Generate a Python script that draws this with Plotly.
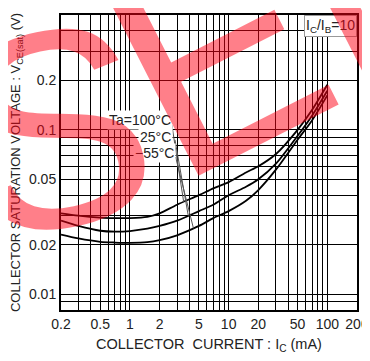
import numpy as np
import plotly.graph_objects as go

# ---------------- data ----------------
ic_ma = [0.2, 0.3, 0.5, 0.7, 1, 1.5, 2, 3, 5, 7, 10, 15, 20, 30, 50, 70, 100]
vce_100 = [0.031, 0.030, 0.0292, 0.029, 0.029, 0.0295, 0.031, 0.035, 0.040, 0.044, 0.048,
           0.055, 0.060, 0.071, 0.100, 0.132, 0.188]
vce_25 = [0.028, 0.026, 0.0243, 0.024, 0.0242, 0.025, 0.026, 0.028, 0.032, 0.035, 0.040,
          0.045, 0.050, 0.062, 0.092, 0.122, 0.173]
vce_m55 = [0.023, 0.0218, 0.0208, 0.0206, 0.0205, 0.0207, 0.0213, 0.0228, 0.026, 0.029, 0.032,
           0.037, 0.043, 0.057, 0.087, 0.114, 0.162]
series_names = ["Ta=100°C", "25°C", "−55°C"]

x_tick_vals = [0.2, 0.5, 1, 2, 5, 10, 20, 50, 100, 200]
x_tick_text = ["0.2", "0.5", "1", "2", "5", "10", "20", "50", "100", "200"]
x_minor_vals = [0.3, 0.4, 0.6, 0.7, 0.8, 0.9, 3, 4, 6, 7, 8, 9, 30, 40, 60, 70, 80, 90]
y_tick_vals = [0.5, 0.2, 0.1, 0.05, 0.02, 0.01]
y_tick_text = ["0.5", "0.2", "0.1", "0.05", "0.02", "0.01"]
y_minor_vals = [0.4, 0.3, 0.09, 0.08, 0.07, 0.06, 0.04, 0.03, 0.009]
x_range = [0.2, 200]
y_range = [0.008, 0.5]

FONT = "Liberation Sans, Arial, sans-serif"
TXT = "#222"

fig = go.Figure()
curves = [vce_100, vce_25, vce_m55]
for name, ys in zip(series_names, curves):
    fig.add_trace(go.Scatter(x=ic_ma, y=ys, mode="lines", name=name,
                             line=dict(color="black", width=1.8, shape="spline", smoothing=0.8),
                             showlegend=False, hoverinfo="skip"))

# leader lines from labels to curves
label_pos = [(2.72, 0.1145), (2.72, 0.090), (2.95, 0.072)]
leader_start = [(2.66, 0.107), (2.86, 0.0869), (2.9, 0.0683)]
leader_ic = [3.5, 3.9, 4.4]
for (sx, sy), lic, ys in zip(leader_start, leader_ic, curves):
    ey = 10 ** np.interp(np.log10(lic), np.log10(ic_ma), np.log10(ys))
    fig.add_trace(go.Scatter(x=[sx, lic], y=[sy, ey], mode="lines",
                             line=dict(color="#555", width=1), showlegend=False, hoverinfo="skip"))

for name, (lx, ly) in zip(series_names, label_pos):
    fig.add_annotation(x=np.log10(lx), y=np.log10(ly), xref="x", yref="y", text=name,
                       showarrow=False, xanchor="right", yanchor="middle",
                       font=dict(family=FONT, size=14, color=TXT), bgcolor="white", borderpad=1)

fig.add_annotation(x=1, y=1, xref="paper", yref="paper", xanchor="right", yanchor="top",
                   text="I<sub>C</sub>/I<sub>B</sub>=10", showarrow=False,
                   font=dict(family=FONT, size=14, color=TXT), bgcolor="white",
                   bordercolor="#999", borderwidth=1, borderpad=1)

# watermark (semi-transparent red letters on top)
WM = "rgba(255,0,20,0.5)"
fig.add_annotation(x=-0.020, y=0.614, xref="paper", yref="paper", text="S", showarrow=False,
                   xanchor="center", yanchor="middle", textangle=-12,
                   font=dict(family="Liberation Sans, Arial", size=280, color=WM))
fig.add_annotation(x=0.772, y=0.998, xref="paper", yref="paper", text="EL", showarrow=False,
                   xanchor="center", yanchor="middle", textangle=-27,
                   font=dict(family="Liberation Sans, Arial", size=290, color=WM))

axis_common = dict(type="log", showline=True, linewidth=2, linecolor="black", mirror=True,
                   showgrid=True, gridcolor="black", gridwidth=1.3, ticks="", zeroline=False,
                   tickfont=dict(family=FONT, size=14, color=TXT))

fig.update_xaxes(**axis_common, range=[np.log10(x_range[0]), np.log10(x_range[1])],
                 tickmode="array", tickvals=x_tick_vals, ticktext=x_tick_text,
                 minor=dict(tickmode="array", tickvals=x_minor_vals, showgrid=True,
                            gridcolor="black", gridwidth=1.3, ticks=""),
                 title=dict(text="COLLECTOR\u00a0 CURRENT : I<sub>C</sub> (mA)", standoff=8,
                            font=dict(family=FONT, size=14.5, color=TXT)))
fig.update_yaxes(**axis_common, range=[np.log10(y_range[0]), np.log10(y_range[1])],
                 tickmode="array", tickvals=y_tick_vals, ticktext=y_tick_text,
                 minor=dict(tickmode="array", tickvals=y_minor_vals, showgrid=True,
                            gridcolor="black", gridwidth=1.3, ticks=""),
                 title=dict(text="COLLECTOR SATURATION VOLTAGE : V<sub>CE(sat)</sub> (V)", standoff=8,
                            font=dict(family=FONT, size=13, color=TXT)))

# the page adds an 8px body margin, so the figure is drawn 8px smaller with shifted margins
fig.update_layout(width=362, height=353, margin=dict(l=53, r=13, t=7, b=51, autoexpand=False),
                  paper_bgcolor="white", plot_bgcolor="white", showlegend=False)

fig.write_html("out.html")
